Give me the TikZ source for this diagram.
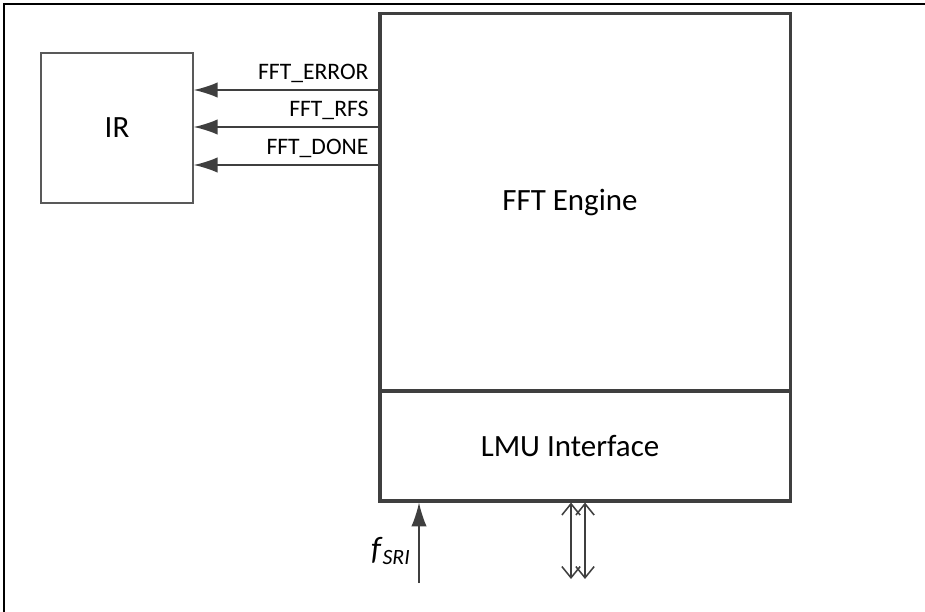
\documentclass[tikz,border=0pt]{standalone}
\usepackage{fontspec}
\setmainfont{Carlito}
\usepackage{xcolor}
\usepackage{tikz}
\usetikzlibrary{arrows.meta,positioning}
\definecolor{edge}{HTML}{3F3F3F}
\definecolor{thin}{HTML}{595959}

\begin{document}
\begin{tikzpicture}[x=0.025cm, y=-0.025cm,
  block/.style={draw=edge, line width=2.2pt, fill=white, minimum width=10.25cm},
  unit/.style={draw=thin, line width=1.1pt, minimum width=3.8cm, minimum height=3.75cm, font=\fontsize{22}{26}\selectfont},
  title/.style={font=\fontsize{22}{26}\selectfont},
  sig/.style={-{Latex[length=17pt, width=11pt]}, line width=1.1pt, draw=edge, fill=edge},
  bus/.style={{Straight Barb[length=8pt, width=13pt]}-{Straight Barb[length=8pt, width=13pt]}, line width=1.1pt, draw=edge},
  tag/.style={font=\fontsize{16.8}{20}\selectfont, inner sep=1.5pt, anchor=south east, xshift=-5pt, yshift=3pt}
]
\clip (0,0) rectangle (925,611);
\draw[line width=1.8pt] (4,4) rectangle (940,630);
\node[block, minimum height=9.425cm] (engine) at (585,202.5) {};
\node[block, minimum height=2.75cm] (lmu) at (585,446) {};
\node[title] (engine-text) at ([xshift=-0.375cm]engine.center) {FFT Engine};
\node[title] (lmu-text) at ([xshift=-0.375cm]lmu.center) {LMU Interface};
\node[unit] (ir) at (117,128) {IR};
\draw[sig] (engine.west |- 0,90) -- (ir.east |- 0,90) node[tag, pos=0] {FFT\_ERROR};
\draw[sig] (engine.west |- 0,127) -- (ir.east |- 0,127) node[tag, pos=0] {FFT\_RFS};
\draw[sig] (engine.west |- 0,165) -- (ir.east |- 0,165) node[tag, pos=0] {FFT\_DONE};
\coordinate (clk) at (419,583);
\draw[sig] (clk) -- (lmu.south -| clk) node[pos=0.4, left, inner sep=6pt] {\fontsize{23}{26}\selectfont\textit{f}\raisebox{-0.35ex}{\fontsize{15.5}{18}\selectfont\itshape SRI}};
\coordinate (busa) at (571,579);
\coordinate (busb) at (585,579);
\draw[bus] (lmu.south -| busa) -- (busa);
\draw[bus] (lmu.south -| busb) -- (busb);
\end{tikzpicture}
\end{document}
